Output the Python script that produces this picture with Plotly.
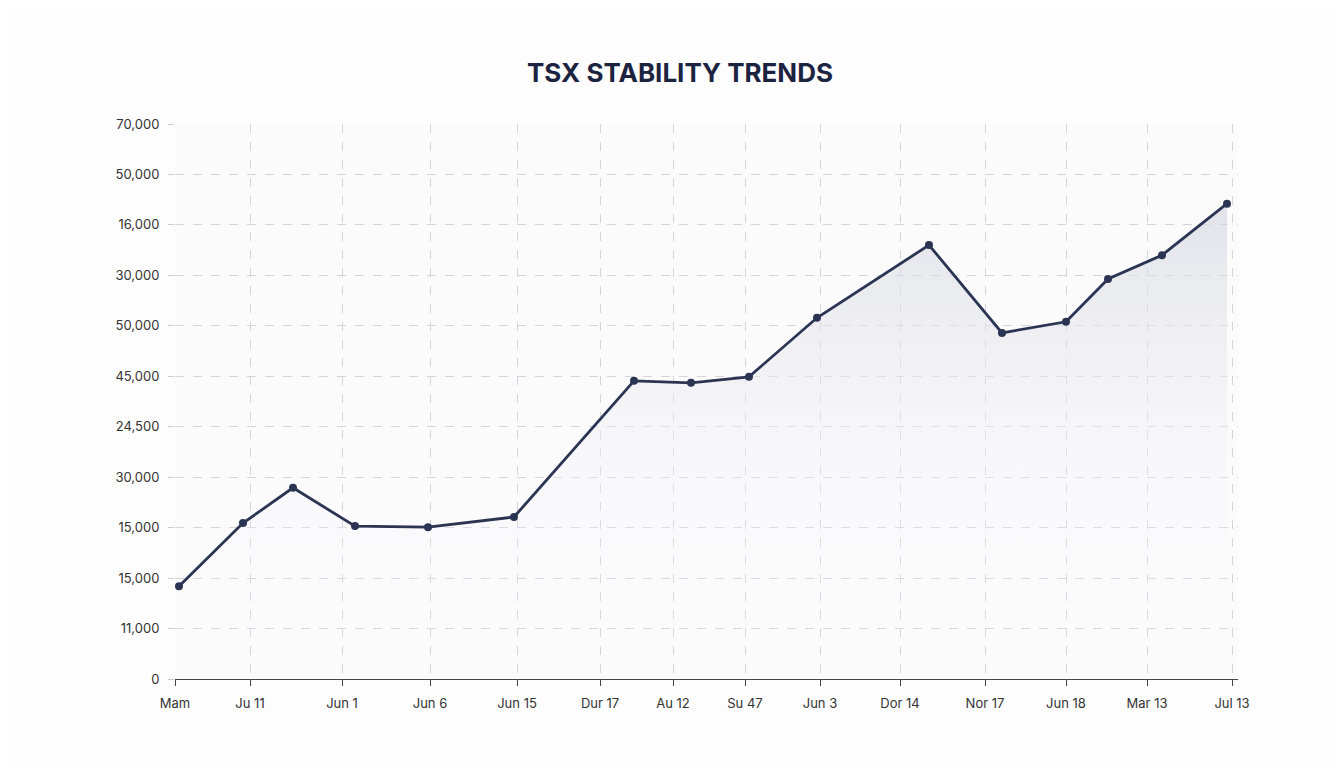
import plotly.graph_objects as go

x_vals = [179, 243, 293, 355, 428, 514, 634, 691, 749, 817, 929, 1002, 1066, 1108, 1162, 1227]
y_vals = [1.84, 3.09, 3.79, 3.03, 3.01, 3.21, 5.91, 5.87, 5.99, 7.16, 8.60, 6.86, 7.08, 7.93, 8.40, 9.42]

x_tick_pos = [175, 250, 342, 430, 517, 600, 673, 745, 820, 900, 985, 1066, 1147, 1232]
x_tick_text = ["Mam", "Ju 11", "Jun 1", "Jun 6", "Jun 15", "Dur 17", "Au 12", "Su 47",
               "Jun 3", "Dor 14", "Nor 17", "Jun 18", "Mar 13", "Jul 13"]
y_tick_pos = list(range(12))
y_tick_text = ["0", "11,000", "15,000", "15,000", "30,000", "24,500", "45,000",
               "50,000", "30,000", "16,000", "50,000", "70,000"]

fig = go.Figure()
fig.add_trace(go.Scatter(
    x=x_vals, y=y_vals, mode="lines+markers",
    line=dict(color="#2b3452", width=2.8),
    marker=dict(size=8, color="#2b3452"),
    fill="tozeroy",
    fillgradient=dict(type="vertical",
                      colorscale=[[0, "rgba(255,255,255,0)"], [0.5, "rgba(240,240,244,0.4)"], [1, "rgba(215,216,224,0.7)"]]),
    hoverinfo="skip", showlegend=False,
))
fig.update_layout(
    width=1344, height=768,
    paper_bgcolor="#fdfdfd", plot_bgcolor="#fbfbfc",
    margin=dict(l=167, r=114, t=116, b=97),
    title=dict(text="<b>TSX STABILITY TRENDS</b>", x=0.5, xanchor="center", y=0.915, yanchor="middle",
               font=dict(family="Inter", size=26, color="#1b2340")),
    font=dict(family="Inter", size=13, color="#333"),
    xaxis=dict(range=[175, 1238], tickvals=x_tick_pos, ticktext=x_tick_text,
               showgrid=True, gridcolor="#d4d4d9", griddash="dash", gridwidth=1,
               showline=True, linecolor="#444", linewidth=1.2, ticks="outside", ticklen=6, tickcolor="#444",
               zeroline=False, ticklabelstandoff=6),
    yaxis=dict(range=[0, 11], tickvals=y_tick_pos, ticktext=y_tick_text,
               showgrid=True, gridcolor="#d4d4d9", griddash="dash", gridwidth=1,
               showline=False, zeroline=False, ticks="outside", ticklen=6, tickcolor="#ccc",
               ticklabelstandoff=6),
)
fig.write_html("out.html")
